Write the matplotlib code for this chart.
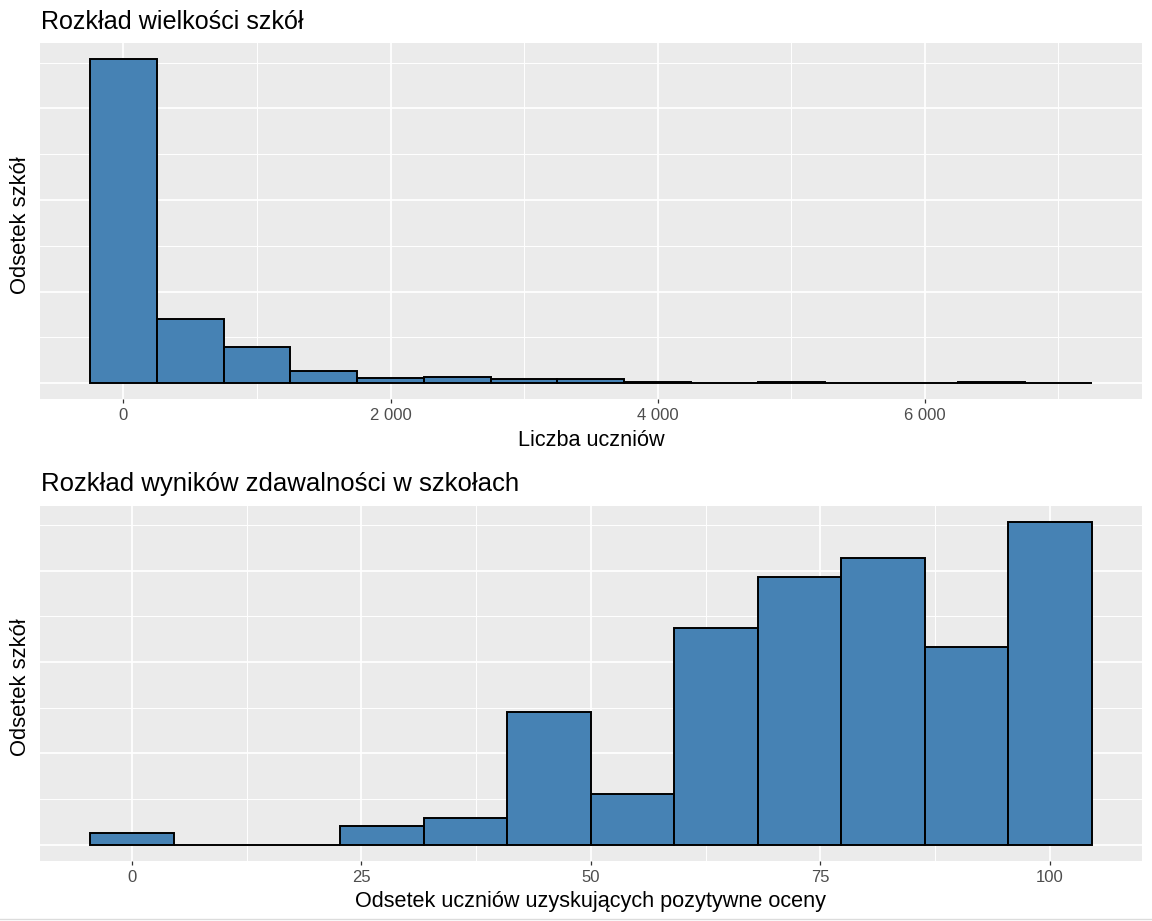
import matplotlib
matplotlib.use("Agg")
import matplotlib.pyplot as plt
from matplotlib.ticker import FixedLocator, FuncFormatter, NullFormatter
from matplotlib.lines import Line2D

plt.rcParams['font.family'] = ['Liberation Sans', 'DejaVu Sans']

# ---------------- data ----------------
size_centers = [0, 500, 1000, 1500, 2000, 2500, 3000, 3500,
                4000, 4500, 5000, 5500, 6000, 6500, 7000]
size_share = [0.707, 0.141, 0.079, 0.0255, 0.011, 0.014, 0.0095, 0.008,
              0.003, 0.001, 0.002, 0.001, 0.001, 0.002, 0.0005]
size_bin_width = 500
size_ticks = [0, 2000, 4000, 6000]
size_minor = [1000, 3000, 5000, 7000]
size_ygrid_major = [0.0, 0.2, 0.4, 0.6]
size_ygrid_minor = [0.1, 0.3, 0.5, 0.7]
size_title = "Rozkład wielkości szkół"
size_xlabel = "Liczba uczniów"

pass_centers = [0, 9.09, 18.18, 27.27, 36.36, 45.45,
                54.55, 63.64, 72.73, 81.82, 90.91, 100]
pass_share = [0.0076, 0.0, 0.0, 0.0124, 0.0174, 0.087,
              0.0332, 0.142, 0.1755, 0.188, 0.130, 0.212]
pass_bin_width = 100 / 11
pass_ticks = [0, 25, 50, 75, 100]
pass_minor = [12.5, 37.5, 62.5, 87.5]
pass_ygrid_major = [0.0, 0.06, 0.12, 0.18]
pass_ygrid_minor = [0.03, 0.09, 0.15, 0.21]
pass_title = "Rozkład wyników zdawalności w szkołach"
pass_xlabel = "Odsetek uczniów uzyskujących pozytywne oceny"

ylabel = "Odsetek szkół"

# ---------------- layout ----------------
W, H = 1152, 921
fig = plt.figure(figsize=(W / 100, H / 100), dpi=100)
fig.patch.set_facecolor('white')


def box(x0, y0, x1, y1):
    return [x0 / W, 1 - y1 / H, (x1 - x0) / W, (y1 - y0) / H]


ax1 = fig.add_axes(box(40, 43.3, 1141.7, 399.3))
ax2 = fig.add_axes(box(40, 505.7, 1141.7, 860.7))


def thousands(v, pos):
    return f"{int(round(v)):,}".replace(",", " ")


def draw(ax, centers, vals, width, xt, xminor, ymaj, ymin, fmt,
         title, xlabel, title_baseline_px, title_size):
    ax.set_facecolor('#EBEBEB')
    lefts = [c - width / 2 for c in centers]
    ax.bar(lefts, vals, width=width, align='edge', color='#4682B4',
           edgecolor='black', linewidth=1.4, zorder=3)
    lo = lefts[0]
    hi = lefts[-1] + width
    pad = 0.05 * (hi - lo)
    ax.set_xlim(lo - pad, hi + pad)
    ymax = max(vals)
    ax.set_ylim(-0.05 * ymax, 1.05 * ymax)

    ax.xaxis.set_major_locator(FixedLocator(xt))
    ax.xaxis.set_minor_locator(FixedLocator(xminor))
    ax.yaxis.set_major_locator(FixedLocator(ymaj))
    ax.yaxis.set_minor_locator(FixedLocator(ymin))
    if fmt is not None:
        ax.xaxis.set_major_formatter(FuncFormatter(fmt))
    ax.yaxis.set_major_formatter(NullFormatter())

    ax.set_axisbelow(True)
    ax.grid(which='major', color='white', linewidth=1.25, zorder=0)
    ax.grid(which='minor', color='white', linewidth=0.7, zorder=0)
    for s in ax.spines.values():
        s.set_visible(False)

    ax.tick_params(axis='x', which='major', length=2.6, width=0.9,
                   color='#333333', labelsize=12, labelcolor='#4D4D4D', pad=4)
    ax.tick_params(axis='x', which='minor', length=0)
    ax.tick_params(axis='y', which='both', length=0, left=False,
                   labelleft=False)

    ax.set_xlabel(xlabel, fontsize=15.6, color='black')
    ax.xaxis.set_label_coords(0.5, -46.4 / 356.0)
    ax.xaxis.label.set_verticalalignment('baseline')

    ax.set_ylabel(ylabel, fontsize=15.8, color='black')
    ax.yaxis.set_label_coords(-14.0 / 1101.7, 0.49)
    ax.yaxis.label.set_verticalalignment('baseline')

    fig.text(41.0 / W, 1 - title_baseline_px / H, title, fontsize=title_size,
             ha='left', va='baseline', color='black')


draw(ax1, size_centers, size_share, size_bin_width, size_ticks, size_minor,
     size_ygrid_major, size_ygrid_minor, thousands,
     size_title, size_xlabel, 29.3, 18.1)
draw(ax2, pass_centers, pass_share, pass_bin_width, pass_ticks, pass_minor,
     pass_ygrid_major, pass_ygrid_minor, None,
     pass_title, pass_xlabel, 490.7, 18.5)

# faint frame line at the bottom of the screenshot
fig.add_artist(Line2D([0, 1], [1 - 919 / H, 1 - 919 / H],
                      transform=fig.transFigure, color='#dcdcdc', lw=1))

fig.savefig('out.png', dpi=100)
